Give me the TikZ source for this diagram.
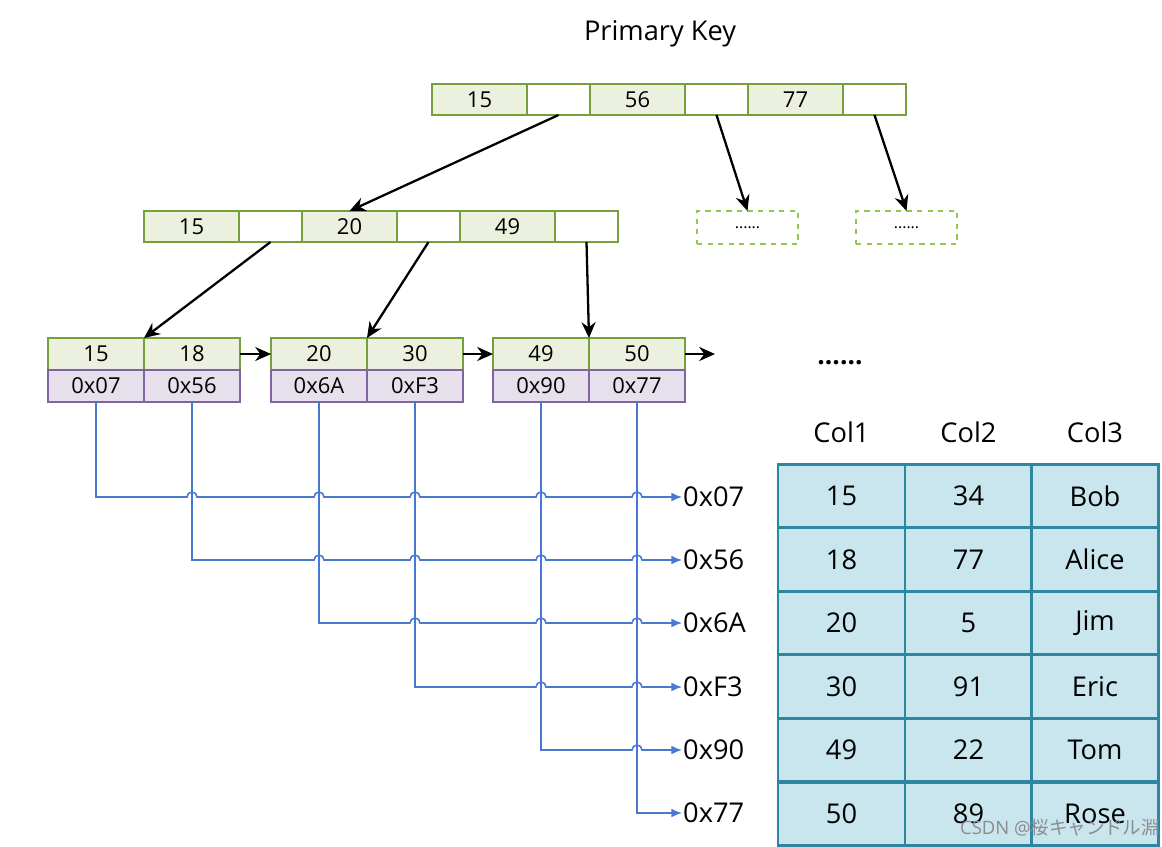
\documentclass[tikz,border=0pt]{standalone}
\usepackage{fontspec}
\setmainfont{Open Sans}
\newfontfamily\cjkfont{Noto Sans CJK JP}
\usetikzlibrary{arrows.meta}
\definecolor{keygreen}{HTML}{EBF1DE}
\definecolor{keyline}{HTML}{77A03C}
\definecolor{addrfill}{HTML}{E6E0EC}
\definecolor{addrline}{HTML}{8064A2}
\definecolor{linkblue}{HTML}{4878CF}
\definecolor{rowfill}{HTML}{C9E5EE}
\definecolor{rowline}{HTML}{2F86A3}
\definecolor{dashgreen}{HTML}{92C84E}
\tikzset{
    cell/.style={rectangle, draw, inner sep=0pt, outer sep=0pt, minimum height=0.62cm,
        line width=0.9pt, font=\fontsize{12.5}{14}\selectfont},
    keycell/.style={cell, fill=keygreen, draw=keyline, minimum width=1.9cm},
    ptrcell/.style={cell, fill=white, draw=keyline, minimum width=1.26cm},
    leafkey/.style={cell, fill=keygreen, draw=keyline, minimum width=1.92cm, minimum height=0.64cm},
    leafaddr/.style={cell, fill=addrfill, draw=addrline, minimum width=1.92cm, minimum height=0.64cm},
    dashbox/.style={cell, draw=dashgreen, dashed, line width=1.2pt, minimum width=2.02cm,
        minimum height=0.66cm, font=\fontsize{9}{10}\selectfont},
    rowcell/.style={rectangle, draw=rowline, fill=rowfill, line width=1.6pt, minimum width=2.54cm,
        minimum height=1.27cm, font=\fontsize{15.5}{18}\selectfont},
    header/.style={font=\fontsize{15.5}{18}\selectfont},
    addr/.style={anchor=west, inner sep=0.5pt, font=\fontsize{15.5}{18}\selectfont},
    treearrow/.style={-{Stealth[length=9pt,width=8pt]}, line width=1.3pt, black},
    link/.style={-{Latex[length=6pt,width=5pt]}, linkblue, line width=0.9pt}
}

\begin{document}
\begin{tikzpicture}[x=0.02cm, y=-0.02cm]
	\useasboundingbox (0,0) rectangle (1162,846);

	\node (pk) [header] at (660,34) {Primary Key};

	% root
	\node (t1) [keycell] at (479.5,99.5) {15};
	\node (t2) [ptrcell] at (558.5,99.5) {};
	\node (t3) [keycell] at (637.5,99.5) {56};
	\node (t4) [ptrcell] at (716.5,99.5) {};
	\node (t5) [keycell] at (795.5,99.5) {77};
	\node (t6) [ptrcell] at (874.5,99.5) {};

	% second level
	\node (m1) [keycell] at (191.5,226.5) {15};
	\node (m2) [ptrcell] at (270.5,226.5) {};
	\node (m3) [keycell] at (349.5,226.5) {20};
	\node (m4) [ptrcell] at (428.5,226.5) {};
	\node (m5) [keycell] at (507.5,226.5) {49};
	\node (m6) [ptrcell] at (586.5,226.5) {};
	\node (d1) [dashbox] at (747.5,227.5) {......};
	\node (d2) [dashbox] at (906.5,227.5) {......};

	% leaves
	\node (k1) [leafkey] at (96,354) {15};
	\node (k2) [leafkey] at (192,354) {18};
	\node (k3) [leafkey] at (319,354) {20};
	\node (k4) [leafkey] at (415,354) {30};
	\node (k5) [leafkey] at (541,354) {49};
	\node (k6) [leafkey] at (637,354) {50};
	\node (p1) [leafaddr] at (96,386) {0x07};
	\node (p2) [leafaddr] at (192,386) {0x56};
	\node (p3) [leafaddr] at (319,386) {0x6A};
	\node (p4) [leafaddr] at (415,386) {0xF3};
	\node (p5) [leafaddr] at (541,386) {0x90};
	\node (p6) [leafaddr] at (637,386) {0x77};
	\coordinate (next) at (715,354);
	\node (more) [font=\fontsize{15}{16}\selectfont\bfseries] at (840,363) {......};

	\draw[treearrow] (t2.south) -- (m3.north);
	\draw[treearrow] (t4.south) -- (d1.north);
	\draw[treearrow] (t6.south) -- (d2.north);
	\draw[treearrow] (m2.south) -- (k1.north east);
	\draw[treearrow] (m4.south) -- (k3.north east);
	\draw[treearrow] (m6.south) -- (k5.north east);
	\draw[treearrow] (k2.east) -- (k3.west);
	\draw[treearrow] (k4.east) -- (k5.west);
	\draw[treearrow] (k6.east) -- (next);

	% row addresses
	\node (a1) [addr] at (682,497) {0x07};
	\node (a2) [addr] at (682,560) {0x56};
	\node (a3) [addr] at (682,623) {0x6A};
	\node (a4) [addr] at (682,687) {0xF3};
	\node (a5) [addr] at (682,750) {0x90};
	\node (a6) [addr] at (682,813) {0x77};

	\draw[link] (p1.south) -- (p1.south |- a1.west)
		foreach \x in {192,319,415,541,637} {-- ({\x-5},497) arc[start angle=180, end angle=0, radius=0.1cm]} -- (a1.west);
	\draw[link] (p2.south) -- (p2.south |- a2.west)
		foreach \x in {319,415,541,637} {-- ({\x-5},560) arc[start angle=180, end angle=0, radius=0.1cm]} -- (a2.west);
	\draw[link] (p3.south) -- (p3.south |- a3.west)
		foreach \x in {415,541,637} {-- ({\x-5},623) arc[start angle=180, end angle=0, radius=0.1cm]} -- (a3.west);
	\draw[link] (p4.south) -- (p4.south |- a4.west)
		foreach \x in {541,637} {-- ({\x-5},687) arc[start angle=180, end angle=0, radius=0.1cm]} -- (a4.west);
	\draw[link] (p5.south) -- (p5.south |- a5.west)
		foreach \x in {637} {-- ({\x-5},750) arc[start angle=180, end angle=0, radius=0.1cm]} -- (a5.west);
	\draw[link] (p6.south) -- (p6.south |- a6.west) -- (a6.west);

	% table
	\node (c1) [header] at (841.5,432) {Col1};
	\node (c2) [header] at (968.5,432) {Col2};
	\node (c3) [header] at (1095,432) {Col3};

	\node (r11) [rowcell] at (841.5,496) {15};
	\node (r12) [rowcell] at (968.5,496) {34};
	\node (r13) [rowcell] at (1095,496) {Bob};
	\node (r21) [rowcell] at (841.5,559.5) {18};
	\node (r22) [rowcell] at (968.5,559.5) {77};
	\node (r23) [rowcell] at (1095,559.5) {Alice};
	\node (r31) [rowcell] at (841.5,623) {20};
	\node (r32) [rowcell] at (968.5,623) {5};
	\node (r33) [rowcell] at (1095,623) {Jim};
	\node (r41) [rowcell] at (841.5,686.5) {30};
	\node (r42) [rowcell] at (968.5,686.5) {91};
	\node (r43) [rowcell] at (1095,686.5) {Eric};
	\node (r51) [rowcell] at (841.5,750) {49};
	\node (r52) [rowcell] at (968.5,750) {22};
	\node (r53) [rowcell] at (1095,750) {Tom};
	\node (r61) [rowcell] at (841.5,814) {50};
	\node (r62) [rowcell] at (968.5,814) {89};
	\node (r63) [rowcell] at (1095,814) {Rose};

	\node (mark) [text=black!45, font=\fontsize{10.5}{12}\selectfont] at (1060,828) {CSDN @{\cjkfont 桜キャンドル淵}};
\end{tikzpicture}
\end{document}
